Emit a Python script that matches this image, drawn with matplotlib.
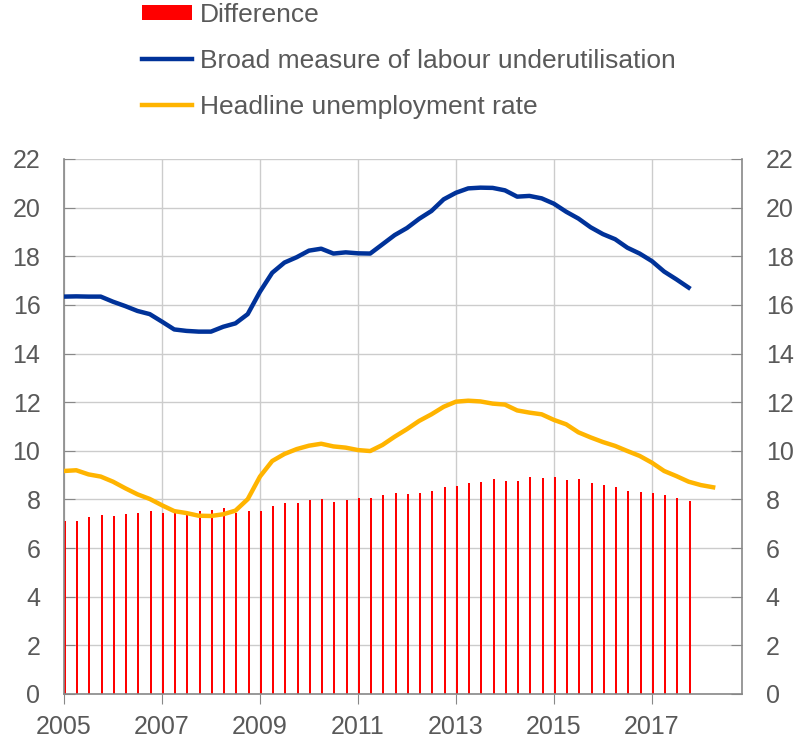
import numpy as np
import matplotlib
matplotlib.use('Agg')
import matplotlib.pyplot as plt

plt.rcParams['font.family'] = ['Liberation Sans', 'DejaVu Sans']

# quarterly data, 2005Q1 onwards
difference = [7.11, 7.11, 7.26, 7.34, 7.32, 7.42, 7.46, 7.52, 7.46, 7.43,
              7.38, 7.52, 7.55, 7.66, 7.46, 7.52, 7.52, 7.73, 7.84, 7.85,
              7.99, 8.02, 7.91, 7.98, 8.05, 8.07, 8.18, 8.25, 8.24, 8.25,
              8.35, 8.50, 8.55, 8.68, 8.73, 8.83, 8.77, 8.77, 8.91, 8.88,
              8.91, 8.79, 8.84, 8.68, 8.58, 8.50, 8.35, 8.31, 8.26, 8.17,
              8.06, 7.94]
broad = [16.34, 16.35, 16.34, 16.34, 16.13, 15.95, 15.75, 15.62, 15.31, 14.99,
         14.93, 14.90, 14.90, 15.10, 15.24, 15.62, 16.54, 17.32, 17.74, 17.96,
         18.23, 18.31, 18.11, 18.16, 18.12, 18.11, 18.49, 18.87, 19.16, 19.54,
         19.86, 20.34, 20.61, 20.79, 20.82, 20.81, 20.71, 20.45, 20.48, 20.38,
         20.16, 19.83, 19.55, 19.19, 18.91, 18.70, 18.35, 18.11, 17.80, 17.37,
         17.05, 16.71]
headline = [9.17, 9.20, 9.03, 8.94, 8.73, 8.46, 8.21, 8.02, 7.76, 7.52,
            7.44, 7.33, 7.32, 7.39, 7.54, 8.01, 8.94, 9.58, 9.87, 10.07,
            10.21, 10.29, 10.18, 10.13, 10.03, 9.99, 10.24, 10.58, 10.89, 11.23,
            11.50, 11.81, 12.02, 12.06, 12.03, 11.94, 11.90, 11.66, 11.57, 11.50,
            11.27, 11.09, 10.76, 10.55, 10.36, 10.20, 9.99, 9.79, 9.51, 9.17,
            8.96, 8.73, 8.59, 8.50]

x_diff = 2005 + 0.25 * np.arange(len(difference))
x_broad = 2005 + 0.25 * np.arange(len(broad))
x_head = 2005 + 0.25 * np.arange(len(headline))

txt = '#595959'
fig = plt.figure(figsize=(7.96, 7.39), dpi=100)
ax = fig.add_axes([0.0804, 0.0609, 0.8518, 0.724])

bars = ax.bar(x_diff, difference, width=0.04, align='edge', color='#ff0000',
              zorder=2)
l1, = ax.plot(x_broad, broad, color='#003299', lw=3.2, zorder=3)
l2, = ax.plot(x_head, headline, color='#ffb400', lw=3.2, zorder=3)

ax.set_xlim(2005, 2018.84)
ax.set_ylim(0, 22)
ax.set_xticks(range(2005, 2018, 2))
ax.set_yticks(range(0, 23, 2))
ax.grid(True, color='#cccccc', lw=1, zorder=0)
ax.set_axisbelow(True)

for s in ['left', 'right', 'bottom']:
    ax.spines[s].set_color('#888888')
    ax.spines[s].set_linewidth(1.2)
ax.spines['top'].set_visible(False)

ax.tick_params(axis='y', which='both', direction='in', length=8, color='#888888',
               labelsize=18, labelcolor=txt, left=True, right=True,
               labelleft=True, labelright=True, pad=17)
ax.tick_params(axis='x', direction='out', length=7, color='#888888',
               labelsize=18, labelcolor=txt, pad=8)

fig.legend([bars, l1, l2],
           ['Difference', 'Broad measure of labour underutilisation',
            'Headline unemployment rate'],
           loc='upper left', bbox_to_anchor=(0.178, 0.996), frameon=False,
           fontsize=19, labelcolor=txt, handlelength=1.9, handleheight=0.5,
           handletextpad=0.3, labelspacing=0.83, borderaxespad=0, borderpad=0)

fig.savefig('out.png', dpi=100)
